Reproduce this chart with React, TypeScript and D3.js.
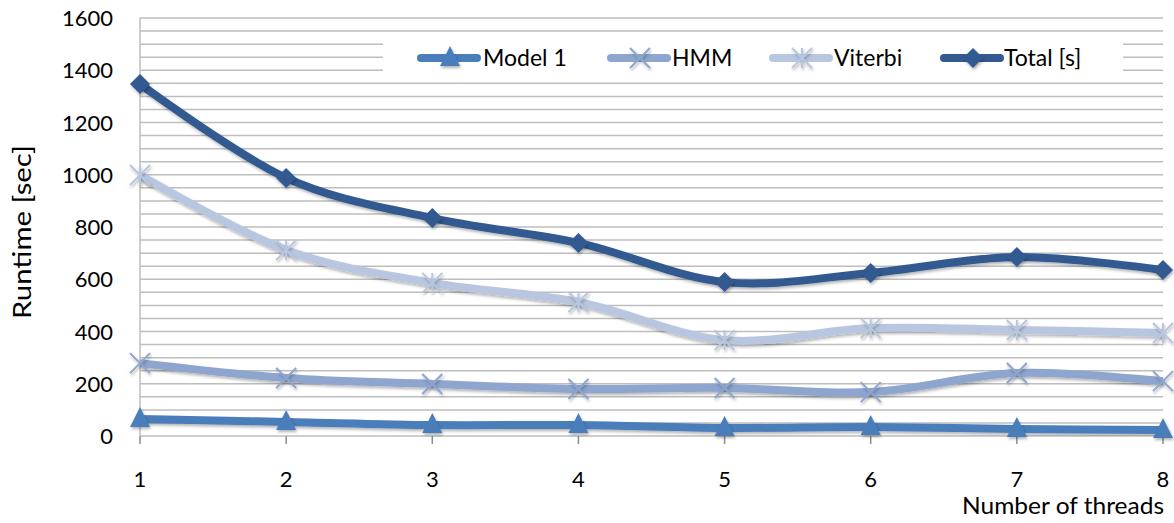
import React from "react";
import * as d3 from "d3";

const threads = [1, 2, 3, 4, 5, 6, 7, 8];
const model1 = [65, 54, 42, 42, 31, 34, 27, 23];
const hmm = [279, 222, 199, 180, 184, 168, 241, 210];
const viterbi = [999, 712, 586, 513, 367, 413, 406, 394];
const total = [1347, 988, 834, 739, 589, 624, 685, 635];
const yTicks = [0, 200, 400, 600, 800, 1000, 1200, 1400, 1600];

const W = 1174, H = 523;
const FONT = "Lato, 'Open Sans', 'Liberation Sans', sans-serif";

type Series = { name: string; values: number[]; color: string; marker: string };
const series: Series[] = [
  { name: "Model 1", values: model1, color: "#4A7EBB", marker: "triangle" },
  { name: "HMM", values: hmm, color: "#8DA5CF", marker: "x" },
  { name: "Viterbi", values: viterbi, color: "#B8C6E0", marker: "star" },
  { name: "Total [s]", values: total, color: "#325A91", marker: "diamond" },
];

function Marker({ type, x, y, color }: { type: string; x: number; y: number; color: string }) {
  const s = 10;
  if (type === "triangle") {
    return <path d={`M${x},${y - s - 2} L${x + s},${y + s - 2} L${x - s},${y + s - 2} Z`} fill={color} filter="url(#shadow)" />;
  }
  if (type === "diamond") {
    return <path d={`M${x},${y - s} L${x + s},${y} L${x},${y + s} L${x - s},${y} Z`} fill={color} filter="url(#shadow)" />;
  }
  if (type === "x") {
    return (
      <g stroke={color} strokeWidth={2} filter="url(#shadow)">
        <line x1={x - s} y1={y - s} x2={x + s} y2={y + s} />
        <line x1={x - s} y1={y + s} x2={x + s} y2={y - s} />
      </g>
    );
  }
  return (
    <g stroke={color} strokeWidth={2} filter="url(#shadow)">
      <line x1={x - s} y1={y - s} x2={x + s} y2={y + s} />
      <line x1={x - s} y1={y + s} x2={x + s} y2={y - s} />
      <line x1={x} y1={y - s} x2={x} y2={y + s} />
    </g>
  );
}

export default function App() {
  const x = d3.scaleLinear().domain([1, 8]).range([140, 1163]);
  const y = d3.scaleLinear().domain([0, 1600]).range([436, 18]);
  const line = d3
    .line<number>()
    .x((_, i) => x(threads[i]))
    .y((d) => y(d))
    .curve(d3.curveCatmullRom.alpha(0));
  const grid = d3.range(0, 1601, 50);

  const legendItems = [
    { s: series[0], lx: 421, tx: 483 },
    { s: series[1], lx: 611, tx: 672 },
    { s: series[2], lx: 773, tx: 834 },
    { s: series[3], lx: 944, tx: 1004 },
  ];
  const ly = 58;

  return (
    <svg width={W} height={H} style={{ position: "absolute", left: 0, top: 0, background: "#fff" }} fontFamily={FONT}>
      <defs>
        <filter id="shadow" x="-50%" y="-50%" width="200%" height="200%">
          <feDropShadow dx="1" dy="2" stdDeviation="1.8" floodColor="#000" floodOpacity="0.3" />
        </filter>
      </defs>
      <rect width={W} height={H} fill="#fff" />
      {grid.map((g) => (
        <line key={g} x1={140} x2={1163} y1={y(g)} y2={y(g)} stroke="#BEBEBE" strokeWidth={1.5} />
      ))}
      <line x1={140} x2={140} y1={y(1600)} y2={y(0)} stroke="#BEBEBE" strokeWidth={1.5} />
      {threads.map((t) => (
        <line key={t} x1={x(t)} x2={x(t)} y1={y(0)} y2={y(0) + 8} stroke="#8C8C8C" strokeWidth={1.5} />
      ))}
      {yTicks.map((t) => (
        <text key={t} x={113} y={y(t) + 8} textAnchor="end" fontSize={22} fill="#000">
          {t}
        </text>
      ))}
      {threads.map((t) => (
        <text key={t} x={x(t)} y={487} textAnchor="middle" fontSize={22} fill="#000">
          {t}
        </text>
      ))}
      <text x={1164} y={514} textAnchor="end" fontSize={23} fill="#000" textLength={202} lengthAdjust="spacingAndGlyphs">
        Number of threads
      </text>
      <text transform="translate(31,232) rotate(-90)" textAnchor="middle" fontSize={25} fill="#000" textLength={174} lengthAdjust="spacingAndGlyphs">
        Runtime [sec]
      </text>
      <rect x={383} y={40} width={740} height={38} fill="#fff" />
      {legendItems.map(({ s, lx, tx }) => (
        <g key={s.name}>
          <line x1={lx} x2={lx + 56} y1={ly} y2={ly} stroke={s.color} strokeWidth={8} strokeLinecap="round" />
          <Marker type={s.marker} x={lx + 29} y={ly} color={s.color} />
          <text x={tx} y={ly + 8} fontSize={23} fill="#000">
            {s.name}
          </text>
        </g>
      ))}
      {series.map((s) => (
        <g key={s.name}>
          <path d={line(s.values) || ""} fill="none" stroke={s.color} strokeWidth={8} filter="url(#shadow)" />
          {s.values.map((v, i) => (
            <Marker key={i} type={s.marker} x={x(threads[i])} y={y(v)} color={s.color} />
          ))}
        </g>
      ))}
    </svg>
  );
}
